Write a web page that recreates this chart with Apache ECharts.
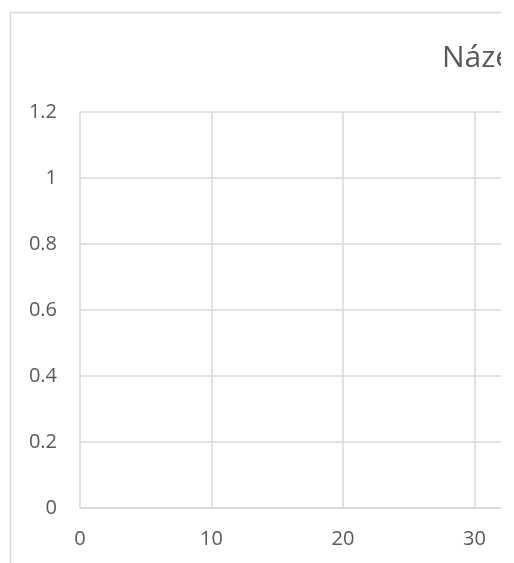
<!DOCTYPE html>
<html>
<head>
<meta charset="utf-8">
<script src="https://cdn.jsdelivr.net/npm/echarts@6/dist/echarts.min.js"></script>
<style>
html,body{margin:0;padding:0;background:#fff;overflow:hidden;}
#wrap{position:absolute;left:0;top:0;width:501px;height:563px;overflow:hidden;}
#chart{position:absolute;left:0;top:0;width:1000px;height:563px;}
</style>
</head>
<body>
<div id="wrap"><div id="chart"></div></div>
<script>
const titleText = "Název grafu";
const xTicks = [0, 10, 20, 30, 40];
const yTicks = [0, 0.2, 0.4, 0.6, 0.8, 1, 1.2];
const seriesValues = [];

const chart = echarts.init(document.getElementById('chart'), null, {renderer: 'canvas'});
const textColor = '#595959';
const gridColor = '#d9d9d9';
chart.setOption({
  animation: false,
  backgroundColor: '#fff',
  title: {
    text: titleText,
    left: 437,
    top: 38,
    textStyle: {fontFamily: 'Open Sans', fontSize: 30, fontWeight: 'normal', color: textColor}
  },
  graphic: [{
    type: 'rect',
    shape: {x: 10.5, y: 12.5, width: 1200, height: 1000},
    style: {fill: 'none', stroke: gridColor, lineWidth: 1.5},
    silent: true, z: -1
  }],
  grid: {left: 80, top: 112, width: 526, height: 396, containLabel: false},
  xAxis: {
    type: 'value',
    min: xTicks[0], max: xTicks[xTicks.length - 1], interval: 10,
    axisLine: {show: true, lineStyle: {color: gridColor, width: 1.5}},
    axisTick: {show: false},
    splitLine: {show: true, lineStyle: {color: gridColor, width: 1.5}},
    axisLabel: {margin: 21, color: textColor, fontFamily: 'Open Sans', fontSize: 20}
  },
  yAxis: {
    type: 'value',
    min: yTicks[0], max: yTicks[yTicks.length - 1], interval: 0.2,
    axisLine: {show: false},
    axisTick: {show: false},
    splitLine: {show: true, lineStyle: {color: gridColor, width: 1.5}},
    axisLabel: {margin: 23, color: textColor, fontFamily: 'Open Sans', fontSize: 20,
      formatter: v => String(Math.round(v * 10) / 10)}
  },
  series: [{type: 'scatter', data: seriesValues}]
});
</script>
</body>
</html>
